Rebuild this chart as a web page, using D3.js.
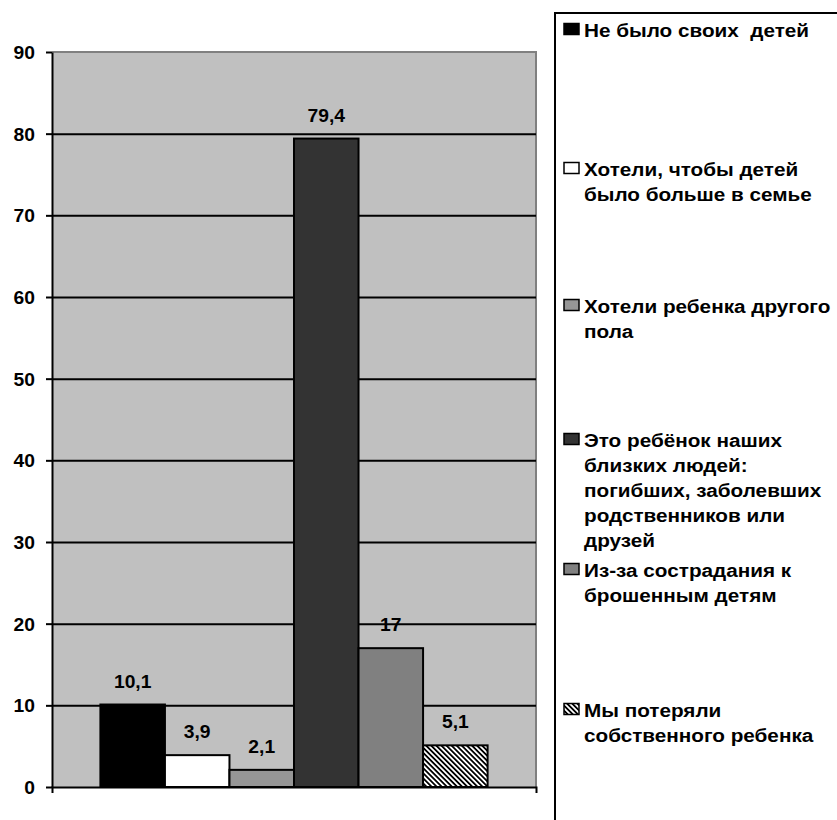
<!DOCTYPE html>
<html>
<head>
<meta charset="utf-8">
<script src="https://cdn.jsdelivr.net/npm/d3@7"></script>
<style>
  body { margin: 0; background: #fff; }
  svg text { font-family: "Liberation Sans", Arial, sans-serif; font-weight: bold; fill: #000; }
</style>
</head>
<body>
<div class="chart"></div>
<script>
/// Data
var seriesKeys = ["s1", "s2", "s3", "s4", "s5", "s6"];
var seriesValues = [10.1, 3.9, 2.1, 79.4, 17, 5.1];
var valueLabels = ["10,1", "3,9", "2,1", "79,4", "17", "5,1"];
var seriesLabels = [
    ["Не было своих  детей"],
    ["Хотели, чтобы детей", "было больше в семье"],
    ["Хотели ребенка другого", "пола"],
    ["Это ребёнок наших", "близких людей:", "погибших, заболевших", "родственников или", "друзей"],
    ["Из-за сострадания к", "брошенным детям"],
    ["Мы потеряли", "собственного ребенка"]
];
var seriesFills = ["#000000", "#ffffff", "#969696", "#333333", "#808080", "url(#hatch)"];
var yTicks = [0, 10, 20, 30, 40, 50, 60, 70, 80, 90];

/// Layout
var svgWidth = 837;
var svgHeight = 820;
var plot = { left: 52, top: 52, right: 536, bottom: 787 };
var legendRowY = [37, 176, 313, 447, 577, 717];
var lineStep = 25;
// the reference text is a bit wider than the font's natural width
var labelStretch = 1.07;
var legendStretch = 1.12;

var svg = d3.select(".chart")
    .append("svg")
    .attr("width", svgWidth)
    .attr("height", svgHeight);

// diagonal hatch for the last series
var pattern = svg.append("defs").append("pattern")
    .attr("id", "hatch")
    .attr("patternUnits", "userSpaceOnUse")
    .attr("width", 3.6)
    .attr("height", 3.6)
    .attr("patternTransform", "rotate(-45)");
pattern.append("rect").attr("width", 3.6).attr("height", 3.6).attr("fill", "#fff");
pattern.append("rect").attr("width", 1.8).attr("height", 3.6).attr("fill", "#000");

/// Scales
var y = d3.scaleLinear().domain([0, 90]).range([plot.bottom, plot.top]);
var x0 = d3.scaleBand().domain([""]).range([plot.left, plot.right]);
var x1 = d3.scaleBand().domain(seriesKeys).range([plot.left, plot.right])
    .paddingInner(0).paddingOuter(0.75);

/// Plot area
svg.append("rect")
    .attr("x", plot.left)
    .attr("y", plot.top)
    .attr("width", plot.right - plot.left)
    .attr("height", plot.bottom - plot.top)
    .attr("fill", "#c0c0c0");

svg.append("path")
    .attr("d", `M${plot.left},${plot.top}H${plot.right}V${plot.bottom}`)
    .attr("fill", "none")
    .attr("stroke", "#808080")
    .attr("stroke-width", 2);

// gridlines
var grid = svg.append("g")
    .attr("transform", `translate(${plot.left},0)`)
    .call(d3.axisLeft(y)
        .tickValues(yTicks.filter(d => d > 0 && d < 90))
        .tickSize(-(plot.right - plot.left))
        .tickFormat(""));
grid.select(".domain").remove();
grid.selectAll("line").attr("stroke", "#000").attr("stroke-width", 2);

/// Bars
svg.selectAll(".bar")
    .data(seriesValues)
    .enter()
    .append("rect")
    .attr("class", "bar")
    .attr("x", (d, i) => x1(seriesKeys[i]))
    .attr("y", d => y(d))
    .attr("width", x1.bandwidth())
    .attr("height", d => y(0) - y(d))
    .attr("fill", (d, i) => seriesFills[i])
    .attr("stroke", "#000")
    .attr("stroke-width", 2);

/// Axes
var yAxis = svg.append("g")
    .attr("transform", `translate(${plot.left},0)`)
    .call(d3.axisLeft(y).tickValues(yTicks).tickSizeInner(6).tickSizeOuter(0).tickPadding(10));
yAxis.select(".domain").attr("stroke", "#000").attr("stroke-width", 2);
yAxis.selectAll("line").attr("stroke", "#000").attr("stroke-width", 2);
yAxis.selectAll("text")
    .style("font-size", "18px")
    .attr("dy", "0.36em")
    .attr("transform", `scale(${labelStretch},1)`);

var xAxis = svg.append("g")
    .attr("transform", `translate(0,${plot.bottom})`)
    .call(d3.axisBottom(x0).tickSizeInner(0).tickSizeOuter(6).tickFormat(""));
xAxis.select(".domain").attr("stroke", "#000").attr("stroke-width", 2);
xAxis.selectAll(".tick").remove();

/// Value labels
svg.selectAll(".value")
    .data(seriesValues)
    .enter()
    .append("text")
    .attr("class", "value")
    .attr("transform", (d, i) =>
        `translate(${x1(seriesKeys[i]) + x1.bandwidth() / 2},${y(d) - 17}) scale(${labelStretch},1)`)
    .attr("text-anchor", "middle")
    .style("font-size", "18px")
    .text((d, i) => valueLabels[i]);

/// Legend
svg.append("rect")
    .attr("x", 555)
    .attr("y", 13)
    .attr("width", 400)
    .attr("height", 900)
    .attr("fill", "#fff")
    .attr("stroke", "#000")
    .attr("stroke-width", 2);

var items = svg.selectAll(".legend-item")
    .data(seriesKeys)
    .enter()
    .append("g")
    .attr("class", "legend-item")
    .attr("transform", (d, i) => `translate(564,${legendRowY[i]})`);

items.append("rect")
    .attr("x", 0)
    .attr("y", -13.5)
    .attr("width", 15)
    .attr("height", 11)
    .attr("fill", (d, i) => seriesFills[i])
    .attr("stroke", "#000")
    .attr("stroke-width", 1.5);

items.each(function(d, i) {
    var t = d3.select(this).append("text")
        .attr("transform", `translate(20,0) scale(${legendStretch},1)`)
        .style("font-size", "18.5px")
        .style("white-space", "pre");
    seriesLabels[i].forEach(function(line, j) {
        t.append("tspan")
            .attr("x", 0)
            .attr("y", j * lineStep)
            .text(line);
    });
});
</script>
</body>
</html>
